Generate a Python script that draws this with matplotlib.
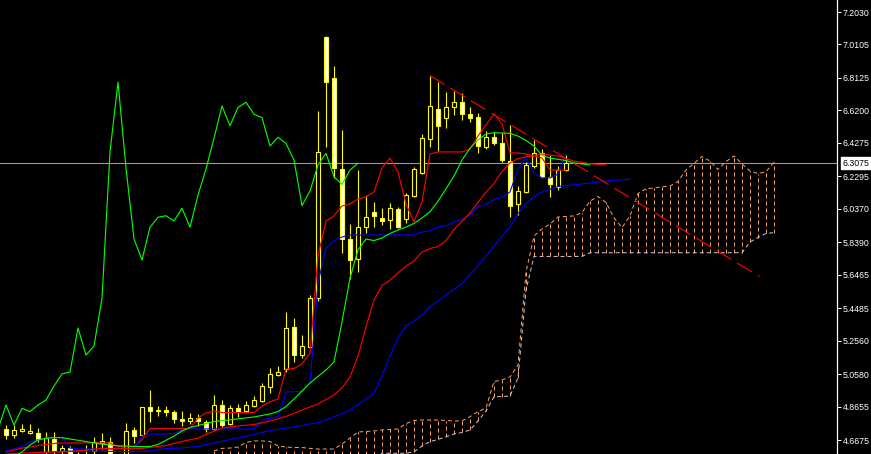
#!/usr/bin/env python
import matplotlib
matplotlib.use('Agg')
from matplotlib import pyplot as plt
from matplotlib.patches import Rectangle

# candles, bar 0 = first full candle at the left edge
OPEN = [4.734, 4.695, 4.721, 4.707, 4.707, 4.598, 4.675, 4.604, 4.618, 4.575,
        4.570, 4.604, 4.648, 4.654, 4.575, 4.570, 4.727, 4.695, 4.861, 4.839,
        4.845, 4.832, 4.790, 4.780, 4.796, 4.774, 4.731, 4.875, 4.760, 4.855,
        4.839, 4.871, 4.900, 4.979, 5.053, 5.086, 5.337, 5.171, 5.220, 5.509,
        7.055, 6.812, 6.273, 5.856, 5.738, 5.931, 6.020, 5.984, 5.971, 6.034,
        5.975, 6.115, 6.251, 6.449, 6.627, 6.573, 6.638, 6.672, 6.599, 6.579,
        6.402, 6.461, 6.425, 6.322, 6.064, 6.138, 6.293, 6.370, 6.227, 6.168,
        6.267]
HIGH = [4.756, 4.756, 4.761, 4.761, 4.737, 4.717, 4.717, 4.638, 4.630, 4.596,
        4.638, 4.684, 4.711, 4.684, 4.580, 4.766, 4.746, 4.865, 4.964, 4.869,
        4.869, 4.845, 4.841, 4.827, 4.822, 4.786, 4.934, 4.904, 4.875, 4.881,
        4.899, 4.928, 5.007, 5.094, 5.106, 5.426, 5.390, 5.290, 5.527, 6.618,
        7.061, 6.883, 6.504, 5.947, 6.267, 6.119, 6.079, 6.042, 6.073, 6.050,
        6.129, 6.283, 6.480, 6.826, 6.790, 6.731, 6.735, 6.721, 6.642, 6.603,
        6.498, 6.494, 6.488, 6.534, 6.172, 6.316, 6.445, 6.390, 6.356, 6.291,
        6.356]
LOW = [4.672, 4.678, 4.717, 4.705, 4.657, 4.570, 4.580, 4.580, 4.560, 4.550,
       4.550, 4.580, 4.608, 4.560, 4.550, 4.550, 4.648, 4.691, 4.772, 4.810,
       4.810, 4.766, 4.750, 4.762, 4.750, 4.717, 4.728, 4.745, 4.756, 4.804,
       4.827, 4.865, 4.893, 4.946, 5.047, 5.070, 5.131, 5.153, 5.218, 5.493,
       6.403, 6.220, 5.777, 5.620, 5.665, 5.892, 5.928, 5.941, 5.918, 5.922,
       5.953, 6.109, 6.242, 6.402, 6.381, 6.514, 6.593, 6.563, 6.553, 6.370,
       6.390, 6.415, 6.316, 5.990, 6.000, 6.129, 6.277, 6.218, 6.109, 6.149,
       6.263]
CLOSE = [4.695, 4.729, 4.731, 4.721, 4.673, 4.678, 4.604, 4.618, 4.575, 4.565,
         4.580, 4.657, 4.663, 4.575, 4.570, 4.721, 4.691, 4.861, 4.841, 4.845,
         4.832, 4.790, 4.782, 4.798, 4.782, 4.731, 4.875, 4.756, 4.855, 4.836,
         4.875, 4.904, 4.987, 5.059, 5.070, 5.331, 5.171, 5.224, 5.507, 6.374,
         6.788, 6.279, 5.858, 5.734, 5.928, 5.987, 5.996, 5.965, 6.040, 5.928,
         6.119, 6.273, 6.455, 6.646, 6.529, 6.638, 6.668, 6.597, 6.577, 6.409,
         6.461, 6.425, 6.326, 6.056, 6.143, 6.297, 6.366, 6.227, 6.182, 6.267,
         6.307]

# ichimoku
TENKAN = [4.599, 4.608, 4.620, 4.626, 4.635, 4.641, 4.647, 4.650, 4.650, 4.650,
          4.650, 4.650, 4.650, 4.650, 4.628, 4.628, 4.628, 4.668, 4.736, 4.736,
          4.736, 4.736, 4.736, 4.736, 4.798, 4.828, 4.839, 4.830, 4.830, 4.830,
          4.830, 4.830, 4.869, 4.893, 4.910, 5.088, 5.091, 5.118, 5.183, 5.758,
          5.965, 5.995, 6.054, 6.066, 6.095, 6.107, 6.137, 6.279, 6.338, 6.255,
          6.066, 5.959, 6.078, 6.362, 6.374, 6.374, 6.374, 6.374, 6.391, 6.468,
          6.534, 6.599, 6.540, 6.368, 6.368, 6.362, 6.350, 6.338, 6.267, 6.267,
          6.267]
KIJUN = [4.602, 4.614, 4.632, 4.656, 4.668, 4.679, 4.682, 4.682, 4.620, 4.614,
         4.614, 4.614, 4.614, 4.614, 4.614, 4.614, 4.614, 4.691, 4.703, 4.703,
         4.703, 4.707, 4.727, 4.733, 4.733, 4.733, 4.733, 4.733, 4.733, 4.733,
         4.733, 4.733, 4.786, 4.796, 4.806, 4.952, 4.954, 4.954, 5.005, 5.598,
         5.805, 5.849, 5.870, 5.882, 5.882, 5.882, 5.882, 5.882, 5.882, 5.882,
         5.882, 5.882, 5.900, 5.906, 5.929, 5.938, 5.959, 5.973, 6.000, 6.051,
         6.062, 6.093, 6.104, 6.137, 6.273, 6.338, 6.249, 6.220, 6.220, 6.243,
         6.359]
SPAN_START = 26
SPAN_A = [4.602, 4.618, 4.620, 4.626, 4.653, 4.662, 4.662, 4.659, 4.632, 4.626,
          4.623, 4.623, 4.618, 4.614, 4.614, 4.614, 4.644, 4.679, 4.715, 4.718,
          4.721, 4.727, 4.730, 4.733, 4.765, 4.783, 4.786, 4.786, 4.786, 4.783,
          4.780, 4.780, 4.806, 4.836, 4.857, 5.014, 5.023, 5.041, 5.112, 5.663,
          5.876, 5.918, 5.947, 5.989, 5.992, 5.995, 6.015, 6.083, 6.110, 6.075,
          5.983, 5.926, 5.995, 6.128, 6.156, 6.160, 6.168, 6.172, 6.199, 6.267,
          6.306, 6.347, 6.320, 6.270, 6.317, 6.350, 6.303, 6.261, 6.246, 6.257,
          6.314]
SPAN_B = [4.550, 4.550, 4.550, 4.550, 4.550, 4.550, 4.550, 4.550, 4.550, 4.550,
          4.550, 4.550, 4.550, 4.550, 4.550, 4.550, 4.550, 4.550, 4.550, 4.550,
          4.550, 4.589, 4.589, 4.589, 4.589, 4.597, 4.632, 4.658, 4.671, 4.687,
          4.703, 4.712, 4.727, 4.780, 4.839, 4.924, 4.925, 4.928, 5.035, 5.556,
          5.755, 5.755, 5.755, 5.755, 5.755, 5.755, 5.755, 5.777, 5.777, 5.777,
          5.777, 5.777, 5.777, 5.777, 5.777, 5.777, 5.777, 5.777, 5.777, 5.777,
          5.777, 5.777, 5.777, 5.777, 5.777, 5.777, 5.777, 5.841, 5.867, 5.891,
          5.896]
CHIKOU_SHIFT = 26

# alligator (lines run past the last candle)
LIPS_BARS = [1, 2, 3, 4, 5, 6, 7, 9, 12, 14, 17, 18, 19, 21, 22, 23, 24, 26, 28,
             31, 33, 34, 35, 36, 37, 38, 39, 40, 41, 42, 43, 44, 45, 46, 47, 48,
             49, 50, 51, 52, 53, 54, 55, 56, 57, 58, 59, 60, 61, 63, 64, 65, 66,
             67, 68, 70, 71, 73]
LIPS = [4.567, 4.597, 4.638, 4.668, 4.678, 4.682, 4.681, 4.666, 4.643, 4.633,
        4.628, 4.629, 4.641, 4.691, 4.721, 4.742, 4.753, 4.777, 4.787, 4.804,
        4.822, 4.836, 4.866, 4.910, 4.958, 5.005, 5.044, 5.082, 5.130, 5.367,
        5.627, 5.793, 5.858, 5.849, 5.864, 5.891, 5.912, 5.929, 5.950, 5.983,
        6.020, 6.083, 6.155, 6.232, 6.326, 6.396, 6.445, 6.480, 6.488, 6.484,
        6.468, 6.442, 6.409, 6.353, 6.338, 6.323, 6.309, 6.297]
TEETH_BARS = [0, 4, 8, 12, 17, 20, 22, 24, 25, 27, 29, 31, 33, 35, 37, 39, 41,
              42, 43, 44, 45, 46, 47, 48, 49, 50, 51, 52, 53, 54, 55, 56, 57, 58,
              59, 60, 61, 62, 63, 64, 66, 67, 69, 71, 73, 75]
TEETH = [4.585, 4.594, 4.599, 4.618, 4.618, 4.635, 4.659, 4.679, 4.700, 4.739,
         4.751, 4.759, 4.780, 4.807, 4.845, 4.881, 4.934, 4.976, 5.041, 5.165,
         5.337, 5.497, 5.583, 5.615, 5.657, 5.698, 5.728, 5.781, 5.802, 5.814,
         5.849, 5.915, 5.962, 6.012, 6.075, 6.137, 6.187, 6.258, 6.309, 6.335,
         6.353, 6.361, 6.350, 6.320, 6.304, 6.297]
JAW_BARS = [0, 7, 12, 16, 18, 20, 22, 24, 26, 28, 31, 33, 36, 39, 41, 43, 45, 46,
            47, 48, 49, 50, 51, 52, 53, 55, 57, 59, 60, 61, 62, 63, 64, 65, 66,
            67, 69, 72, 74, 76, 78]
JAW = [4.573, 4.602, 4.601, 4.598, 4.602, 4.617, 4.620, 4.629, 4.650, 4.671,
       4.700, 4.724, 4.745, 4.771, 4.804, 4.845, 4.910, 4.944, 5.047, 5.165,
       5.272, 5.343, 5.373, 5.408, 5.457, 5.527, 5.595, 5.701, 5.758, 5.817,
       5.876, 5.929, 6.009, 6.066, 6.110, 6.137, 6.169, 6.184, 6.196, 6.206,
       6.212]

TREND_BARS = [53, 94.2]
TREND = [6.826, 5.635]

LAST_PRICE = 6.3075
PRICE_TICKS = [7.2030, 7.0105, 6.8125, 6.6200, 6.4275, 6.2295, 6.0370, 5.8390,
               5.6465, 5.4485, 5.2560, 5.0580, 4.8655, 4.6675]

PX = 0.72  # one pixel in points at dpi 100
FONT = ['Liberation Sans', 'DejaVu Sans']


def draw_candles(ax):
    for i in range(len(OPEN)):
        o, h, l, c = OPEN[i], HIGH[i], LOW[i], CLOSE[i]
        ax.vlines(i, l, h, color='#ffff00', lw=PX * 1.1, zorder=3)
        face = 'white' if c < o else 'black'
        low_body = min(o, c)
        ax.add_patch(Rectangle((i - 0.25, low_body), 0.5, max(abs(c - o), 0.002),
                               facecolor=face, edgecolor='#ffff00', lw=PX * 1.1, zorder=4))


def draw_cloud(ax):
    bars = list(range(SPAN_START, SPAN_START + len(SPAN_A)))
    dots = (0, (4 * PX, 3 * PX))
    for x, a, b in zip(bars, SPAN_A, SPAN_B):
        col = '#f4a460' if a >= b else '#d8bfd8'
        ax.vlines(x, min(a, b), max(a, b), color=col, lw=PX, linestyles=[dots], zorder=2)
    ax.plot(bars, SPAN_B, color='#d8bfd8', lw=PX, ls=dots, zorder=2)
    ax.plot(bars, SPAN_A, color='#f4a460', lw=PX, ls=dots, zorder=2)


def main():
    plt.rcParams['lines.scale_dashes'] = False
    fig = plt.figure(figsize=(8.71, 4.54), dpi=100, facecolor='black')
    ax = fig.add_axes([0, 0, 837 / 871, 1])
    ax.set_facecolor('black')

    draw_cloud(ax)
    draw_candles(ax)

    lw = PX * 1.15
    bars = list(range(len(CLOSE)))
    ax.plot(bars, TENKAN, color='#ff0000', lw=lw, zorder=5)
    ax.plot(bars, KIJUN, color='#0000ff', lw=lw, zorder=5)
    chikou_x = [b - CHIKOU_SHIFT for b in bars[CHIKOU_SHIFT - 1:]]
    ax.plot(chikou_x, CLOSE[CHIKOU_SHIFT - 1:], color='#00ff00', lw=lw, zorder=5)

    ax.plot(JAW_BARS, JAW, color='#0000ff', lw=lw, zorder=5)
    ax.plot(TEETH_BARS, TEETH, color='#ff0000', lw=lw, zorder=5)
    ax.plot(LIPS_BARS, LIPS, color='#00ff00', lw=lw, zorder=5)

    ax.plot(TREND_BARS, TREND, color='#ff0000', lw=lw, ls=(0, (17 * PX, 7 * PX)), zorder=6)
    ax.axhline(LAST_PRICE, color='#9a9a9a', lw=PX * 1.1, zorder=1)

    ax.set_xlim(-0.75, 103.875)
    ax.set_ylim(4.5846, 7.2741)

    for side in ['left', 'top', 'bottom']:
        ax.spines[side].set_visible(False)
    ax.spines['right'].set_color('white')
    ax.spines['right'].set_linewidth(PX * 1.2)
    ax.set_xticks([])
    ax.yaxis.tick_right()
    ax.set_yticks(PRICE_TICKS)
    ax.set_yticklabels([f'{v:.4f}' for v in PRICE_TICKS])
    ax.tick_params(axis='y', colors='white', length=4 * PX, width=PX, pad=1.2,
                   labelsize=6.3)
    for lab in ax.get_yticklabels():
        lab.set_family(FONT)

    ax.annotate(f'{LAST_PRICE:.4f}', xy=(1, LAST_PRICE), xycoords=('axes fraction', 'data'),
                xytext=(5.5 * PX, 0), textcoords='offset points', ha='left', va='center',
                fontsize=6.3, family=FONT, color='black', annotation_clip=False,
                bbox=dict(boxstyle='square,pad=0.2', facecolor='white', edgecolor='white'))

    fig.savefig('out.png', dpi=100, facecolor='black')


if __name__ == '__main__':
    main()
